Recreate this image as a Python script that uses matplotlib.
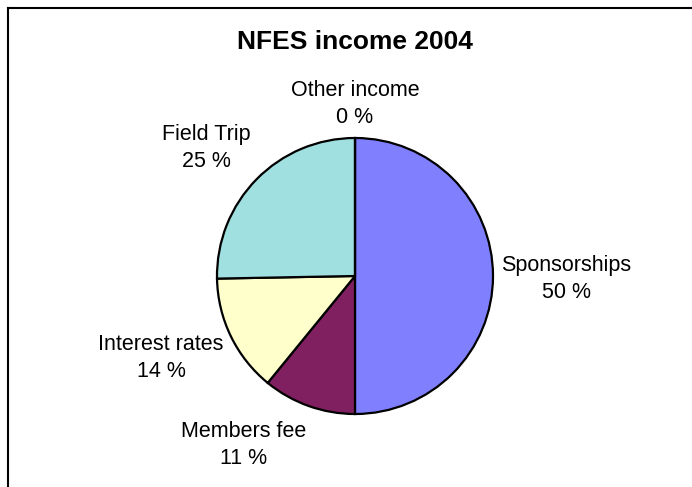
import matplotlib
matplotlib.use('Agg')
import matplotlib.pyplot as plt

# Data
categories = ['Sponsorships', 'Members fee', 'Interest rates', 'Field Trip', 'Other income']
shares = [50.0, 10.9, 13.8, 25.3, 0.0]
colors = ['#8080FF', '#802060', '#FFFFCC', '#A0E0E0', '#FFFFFF']
title = 'NFES income 2004'

# label centres in pixel space (x, y from top)
label_pos = [(566, 279), (244, 445), (161, 358), (206, 148), (355, 104)]

W, H = 692, 487
plt.rcParams['font.family'] = ['Liberation Sans', 'DejaVu Sans']

fig = plt.figure(figsize=(W / 100, H / 100), dpi=100)
ax = fig.add_axes([0, 0, 1, 1])

ax.pie(shares, colors=colors, startangle=90, counterclock=False,
       center=(355, H - 276), radius=138,
       wedgeprops=dict(edgecolor='black', linewidth=1.6))

for name, val, (x, y) in zip(categories, shares, label_pos):
    ax.text(x, H - y, f'{name}\n{val:.0f} %', ha='center', va='center',
            fontsize=15.5, multialignment='center', linespacing=1.4)

ax.text(355, H - 42, title, ha='center', va='center', fontsize=19, fontweight='bold')

# chart border (top and left visible)
ax.plot([8, W], [H - 8, H - 8], color='black', linewidth=1.5)
ax.plot([8, 8], [H - 8, 0], color='black', linewidth=1.5)

ax.set_xlim(0, W)
ax.set_ylim(0, H)
ax.set_aspect('auto')
ax.axis('off')

fig.savefig('out.png', dpi=100)
